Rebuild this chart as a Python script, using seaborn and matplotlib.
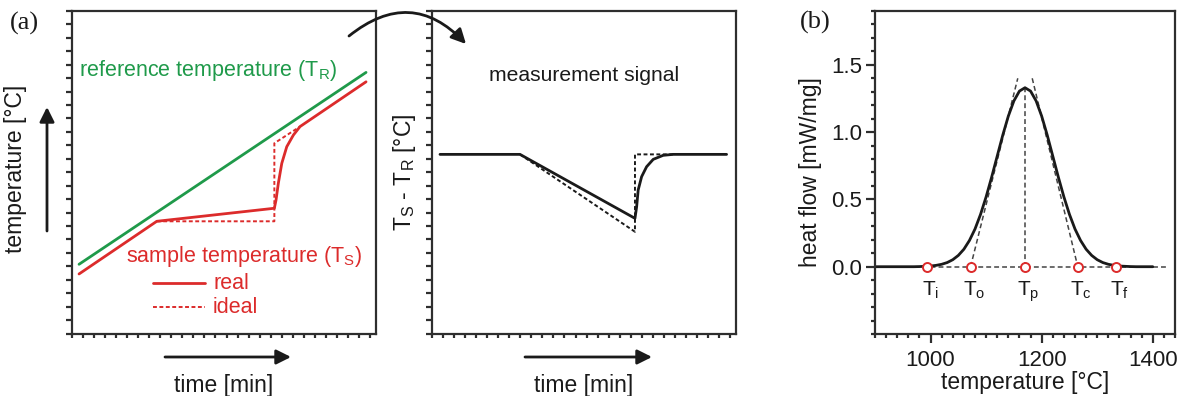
import matplotlib
matplotlib.use("Agg")
import matplotlib.pyplot as plt
from matplotlib.ticker import MultipleLocator, NullFormatter
from matplotlib.patches import FancyArrowPatch
import seaborn as sns

# ---- (a) left: reference and sample temperature vs. time (arbitrary units)
time_ref = [0.68, 26.6]
temp_ref = [5.15, 19.43]
time_real = [0.68, 7.70, 18.32, 18.47, 18.68, 18.99, 19.44, 20.04, 20.64, 26.6]
temp_real = [4.43, 8.35, 9.32, 9.93, 11.18, 12.66, 13.90, 14.77, 15.40, 18.73]
time_ideal = [7.70, 18.32, 18.32, 20.64]
temp_ideal = [8.35, 8.35, 14.16, 15.40]

# ---- (a) right: measurement signal T_S - T_R
time_sig = [0.75, 7.98, 18.37, 18.52, 18.66, 18.97, 19.42, 20.02, 20.92, 21.82, 26.65]
sig_real = [13.33, 13.33, 8.57, 9.43, 10.68, 11.67, 12.41, 12.96, 13.26, 13.33, 13.33]
time_sig_ideal = [7.98, 18.37, 18.37, 21.82]
sig_ideal = [13.33, 7.57, 13.33, 13.33]

# ---- (b) DSC peak
temperature = [900, 910, 920, 930, 940, 950, 960, 970, 980, 990,
               1000, 1010, 1020, 1030, 1040, 1050, 1060, 1070, 1080, 1090,
               1100, 1110, 1120, 1130, 1140, 1150, 1160, 1170, 1180, 1190,
               1200, 1210, 1220, 1230, 1240, 1250, 1260, 1270, 1280, 1290,
               1300, 1310, 1320, 1330, 1340, 1350, 1360, 1370, 1380, 1390, 1400]
heat_flow = [0.000, 0.000, 0.000, 0.000, 0.000, 0.000, 0.000, 0.000, 0.001, 0.003,
             0.005, 0.010, 0.018, 0.031, 0.052, 0.084, 0.130, 0.195, 0.280, 0.389,
             0.519, 0.666, 0.822, 0.978, 1.119, 1.232, 1.305, 1.330, 1.305, 1.232,
             1.119, 0.978, 0.822, 0.666, 0.519, 0.389, 0.280, 0.195, 0.130, 0.084,
             0.052, 0.031, 0.018, 0.010, 0.005, 0.003, 0.001, 0.000, 0.000, 0.000, 0.000]
baseline_T = [900, 1426]
baseline_hf = [0.0, 0.0]
onset_tangent_T = [1072, 1157]
onset_tangent_hf = [0.0, 1.40]
end_tangent_T = [1183, 1265]
end_tangent_hf = [1.40, 0.0]
peak_T = [1170, 1170]
peak_hf = [0.0, 1.33]
char_names = ["i", "o", "p", "c", "f"]
char_T = [994, 1072, 1170, 1265, 1333]

GREEN = "#1f9a4a"
RED = "#dc2b2b"
INK = "#1a1a1a"
SPINE = "#2e2e2e"

sns.set_theme(style="ticks")
plt.rcParams["font.family"] = ["Liberation Sans", "DejaVu Sans"]
plt.rcParams["mathtext.fontset"] = "custom"
plt.rcParams["mathtext.rm"] = "Liberation Sans"
plt.rcParams["mathtext.it"] = "Liberation Sans"

W, H = 1179, 396
fig = plt.figure(figsize=(W / 100, H / 100), dpi=100)


def axes_px(left, top, right, bottom):
    return fig.add_axes([left / W, 1 - bottom / H, (right - left) / W, (bottom - top) / H])


def fx(x):
    return x / W


def fy(y):
    return 1 - y / H


def frame(ax):
    for s in ax.spines.values():
        s.set_visible(True)
        s.set_color(SPINE)
        s.set_linewidth(1.6)


def schematic_ticks(ax):
    ax.set_xlim(0, 27.5)
    ax.set_ylim(0, 24)
    ax.xaxis.set_major_locator(MultipleLocator(1))
    ax.yaxis.set_major_locator(MultipleLocator(1))
    ax.xaxis.set_major_formatter(NullFormatter())
    ax.yaxis.set_major_formatter(NullFormatter())
    ax.tick_params(axis="y", direction="out", length=4.2, width=1.6, color=SPINE,
                   left=True, right=False)
    ax.tick_params(axis="x", direction="out", length=3.0, width=1.6, color=SPINE,
                   bottom=True, top=False)


def hline_kw(**kw):
    base = dict(sort=False, estimator=None, legend=False)
    base.update(kw)
    return base


# ------------------------------------------------------------------ panel 1
ax1 = axes_px(71.5, 11, 376, 333.5)
frame(ax1)
schematic_ticks(ax1)
sns.lineplot(x=time_ideal, y=temp_ideal, ax=ax1,
             **hline_kw(color=RED, linewidth=1.4, linestyle=(0, (2.0, 1.3))))
sns.lineplot(x=time_ref, y=temp_ref, ax=ax1, **hline_kw(color=GREEN, linewidth=2.0))
sns.lineplot(x=time_real, y=temp_real, ax=ax1, **hline_kw(color=RED, linewidth=2.0))
ax1.set_xlabel("time [min]", fontsize=16.5, color=INK)
ax1.set_ylabel("temperature [°C]", fontsize=16.5, color=INK)
ax1.xaxis.set_label_coords(0.5, -0.125)
ax1.yaxis.set_label_coords(-0.145, 0.51)

ax1.text(0.025, 0.815, "reference temperature (T$_\\mathregular{R}$)", transform=ax1.transAxes,
         fontsize=15.5, color=GREEN, ha="left", va="center")
ax1.text(0.18, 0.24, "sample temperature (T$_\\mathregular{S}$)", transform=ax1.transAxes,
         fontsize=15.5, color=RED, ha="left", va="center")
# legend for the sample curves
ax1.plot([0.268, 0.44], [0.156, 0.156], transform=ax1.transAxes, color=RED, linewidth=2.0)
ax1.plot([0.268, 0.44], [0.082, 0.082], transform=ax1.transAxes, color=RED, linewidth=1.4,
         linestyle=(0, (2.0, 1.3)))
ax1.text(0.465, 0.156, "real", transform=ax1.transAxes, fontsize=15.5, color=RED,
         ha="left", va="center")
ax1.text(0.465, 0.082, "ideal", transform=ax1.transAxes, fontsize=15.5, color=RED,
         ha="left", va="center")

# ------------------------------------------------------------------ panel 2
ax2 = axes_px(431.7, 11, 736, 333.5)
frame(ax2)
schematic_ticks(ax2)
sns.lineplot(x=time_sig_ideal, y=sig_ideal, ax=ax2,
             **hline_kw(color=INK, linewidth=1.4, linestyle=(0, (2.0, 1.3))))
sns.lineplot(x=time_sig, y=sig_real, ax=ax2, **hline_kw(color=INK, linewidth=2.0))
ax2.set_xlabel("time [min]", fontsize=16.5, color=INK)
ax2.set_ylabel("T$_\\mathregular{S}$ - T$_\\mathregular{R}$ [°C]", fontsize=16.5, color=INK)
ax2.xaxis.set_label_coords(0.5, -0.125)
ax2.yaxis.set_label_coords(-0.045, 0.5)
ax2.text(0.5, 0.8, "measurement signal", transform=ax2.transAxes, fontsize=15.2,
         color=INK, ha="center", va="center")

# ------------------------------------------------------------------ panel 3
ax3 = axes_px(875, 11, 1175, 334)
frame(ax3)
ax3.set_xlim(900, 1440)
ax3.set_ylim(-0.5, 1.9)
ax3.xaxis.set_major_locator(MultipleLocator(200))
ax3.xaxis.set_minor_locator(MultipleLocator(20))
ax3.yaxis.set_major_locator(MultipleLocator(0.5))
ax3.yaxis.set_minor_locator(MultipleLocator(0.1))
ax3.yaxis.set_major_formatter(plt.FuncFormatter(lambda v, p: f"{v:.1f}"))
ax3.tick_params(which="major", direction="out", length=6.5, width=1.6, color=SPINE,
                labelsize=16, labelcolor=INK, pad=3, top=False, right=False)
ax3.tick_params(axis="x", which="major", pad=5)
ax3.tick_params(which="minor", direction="out", length=3.2, width=1.6, color=SPINE,
                top=False, right=False)
ax3.set_yticks([0.0, 0.5, 1.0, 1.5])
ax3.set_xticks([1000, 1200, 1400])

dash = (0, (3.2, 2.0))
sns.lineplot(x=baseline_T, y=baseline_hf, ax=ax3,
             **hline_kw(color="#444444", linewidth=1.1, linestyle=dash))
sns.lineplot(x=onset_tangent_T, y=onset_tangent_hf, ax=ax3,
             **hline_kw(color="#444444", linewidth=1.1, linestyle=dash))
sns.lineplot(x=end_tangent_T, y=end_tangent_hf, ax=ax3,
             **hline_kw(color="#444444", linewidth=1.1, linestyle=dash))
sns.lineplot(x=peak_T, y=peak_hf, ax=ax3,
             **hline_kw(color="#444444", linewidth=1.1, linestyle=dash))
sns.lineplot(x=temperature, y=heat_flow, ax=ax3, **hline_kw(color=INK, linewidth=2.0))
sns.scatterplot(x=char_T, y=[0.0] * len(char_T), ax=ax3, s=42, color="white",
                edgecolor=RED, linewidth=1.4, zorder=6, legend=False)
for name, t in zip(char_names, char_T):
    ax3.annotate(f"T$_\\mathregular{{{name}}}$", xy=(t, 0.0), xytext=(2.5, -9),
                 textcoords="offset points", ha="center", va="top", fontsize=15,
                 color=INK)
ax3.set_xlabel("temperature [°C]", fontsize=16.5, color=INK)
ax3.set_ylabel("heat flow [mW/mg]", fontsize=16.5, color=INK)
ax3.xaxis.set_label_coords(0.5, -0.115)
ax3.yaxis.set_label_coords(-0.175, 0.5)

# ------------------------------------------------------------------ annotations
fig.text(fx(24), fy(23), "(a)", fontsize=19, family="Liberation Serif", color=INK,
         ha="center", va="center")
fig.text(fx(815), fy(22), "(b)", fontsize=19, family="Liberation Serif", color=INK,
         ha="center", va="center")


def fig_arrow(p0, p1, rad=0.0, scale=22, lw=2.0):
    a = FancyArrowPatch((fx(p0[0]), fy(p0[1])), (fx(p1[0]), fy(p1[1])),
                        transform=fig.transFigure, arrowstyle="-|>",
                        connectionstyle=f"arc3,rad={rad}", mutation_scale=scale,
                        color=INK, linewidth=lw, shrinkA=0, shrinkB=0)
    fig.patches.append(a)


fig_arrow((47, 231), (47, 107))
fig_arrow((165, 357), (291, 357))
fig_arrow((525, 357), (652, 357))
fig_arrow((349, 36), (466, 44), rad=-0.46)

fig.savefig("out.png", dpi=100)
